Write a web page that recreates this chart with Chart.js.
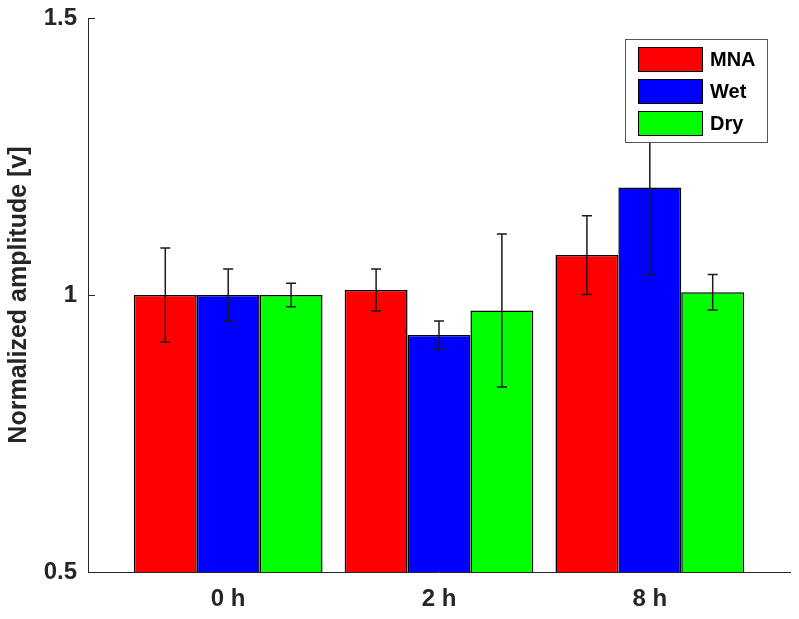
<!DOCTYPE html>
<html>
<head>
<meta charset="utf-8">
<script src="https://cdn.jsdelivr.net/npm/chart.js@4"></script>
<style>
  html, body { margin: 0; padding: 0; background: #fff; }
  #wrap { width: 799px; height: 619px; }
</style>
</head>
<body>
<div id="wrap"><canvas id="chart" width="799" height="619"></canvas></div>
<script>
// values
const timeLabels = ['0 h', '2 h', '8 h'];
const seriesNames = ['MNA', 'Wet', 'Dry'];
const mna = [1.0, 1.009, 1.072];
const wet = [1.0, 0.928, 1.194];
const dry = [1.0, 0.972, 1.005];
const mnaErr = [0.085, 0.038, 0.071];
const wetErr = [0.047, 0.025, 0.158];
const dryErr = [0.021, 0.138, 0.032];
const colors = ['#ff0000', '#0000ff', '#00ff00'];
const yTicks = [0.5, 1, 1.5];

const font = 'Liberation Sans';
const axisColor = '#262626';

const values = [mna, wet, dry];
const errors = [mnaErr, wetErr, dryErr];

const datasets = seriesNames.map((name, i) => ({
  label: name,
  data: values[i].map((v, j) => ({ x: j + 1, y: v })),
  err: errors[i],
  backgroundColor: colors[i],
  borderColor: '#000',
  borderWidth: 1.5,
  borderSkipped: false,
  categoryPercentage: 0.895,
  barPercentage: 1.0
}));

const errorBars = {
  id: 'errorBars',
  afterDatasetsDraw(chart) {
    const ctx = chart.ctx;
    const y = chart.scales.y;
    ctx.save();
    ctx.strokeStyle = '#1a1a1a';
    ctx.lineWidth = 1.5;
    chart.data.datasets.forEach((ds, i) => {
      const meta = chart.getDatasetMeta(i);
      meta.data.forEach((bar, j) => {
        const v = ds.data[j].y, e = ds.err[j];
        const top = y.getPixelForValue(v + e);
        const bot = y.getPixelForValue(v - e);
        ctx.beginPath();
        ctx.moveTo(bar.x, top); ctx.lineTo(bar.x, bot);
        ctx.moveTo(bar.x - 5, top); ctx.lineTo(bar.x + 5, top);
        ctx.moveTo(bar.x - 5, bot); ctx.lineTo(bar.x + 5, bot);
        ctx.stroke();
      });
    });
    ctx.restore();
  },
  afterDraw(chart) {
    const ctx = chart.ctx;
    const y = chart.scales.y;
    const area = chart.chartArea;
    ctx.save();
    // inward ticks
    ctx.strokeStyle = axisColor;
    ctx.lineWidth = 1;
    yTicks.forEach(t => {
      const py = Math.round(y.getPixelForValue(t)) + 0.5;
      ctx.beginPath();
      ctx.moveTo(area.left, py); ctx.lineTo(area.left + 7, py);
      ctx.stroke();
    });
    // legend box, drawn over the bars and error bars
    const bx = 625, by = 39, bw = 142, bh = 103;
    ctx.fillStyle = '#fff';
    ctx.fillRect(bx, by, bw, bh);
    ctx.strokeStyle = '#555';
    ctx.lineWidth = 1;
    ctx.strokeRect(bx + 0.5, by + 0.5, bw, bh);
    ctx.font = 'bold 20px "' + font + '"';
    ctx.textBaseline = 'middle';
    chart.data.datasets.forEach((ds, i) => {
      const ry = by + 8 + i * 32;
      ctx.fillStyle = ds.backgroundColor;
      ctx.fillRect(638, ry, 64, 24);
      ctx.strokeStyle = '#000';
      ctx.strokeRect(638.5, ry + 0.5, 64, 24);
      ctx.fillStyle = '#000';
      ctx.fillText(ds.label, 710, ry + 13);
    });
    ctx.restore();
  }
};

new Chart(document.getElementById('chart'), {
  type: 'bar',
  data: { datasets },
  options: {
    responsive: false,
    animation: false,
    layout: { padding: { left: 0, right: 9, top: 18, bottom: 0 } },
    plugins: { legend: { display: false }, tooltip: { enabled: false } },
    scales: {
      x: {
        type: 'linear',
        offset: false,
        min: 0.335,
        max: 3.665,
        grid: { display: false, drawTicks: false },
        border: { display: true, color: axisColor, width: 1 },
        afterBuildTicks: s => { s.ticks = timeLabels.map((_, i) => ({ value: i + 1 })); },
        afterFit: s => { s.height = 47; s.paddingLeft = 0; s.paddingRight = 0; },
        ticks: {
          padding: 13,
          color: axisColor,
          font: { family: font, size: 24, weight: 'bold' },
          maxRotation: 0,
          callback: v => timeLabels[v - 1]
        }
      },
      y: {
        min: 0.5,
        max: 1.5,
        grid: { display: false, drawTicks: false },
        border: { display: true, color: axisColor, width: 1 },
        afterBuildTicks: s => { s.ticks = yTicks.map(v => ({ value: v })); },
        afterFit: s => { s.width = 88; s.paddingTop = 0; s.paddingBottom = 0; },
        ticks: {
          padding: 11,
          color: axisColor,
          font: { family: font, size: 24, weight: 'bold' },
          callback: v => String(v)
        },
        title: {
          display: true,
          text: 'Normalized amplitude [v]',
          color: axisColor,
          font: { family: font, size: 25, weight: 'bold' },
          padding: { top: 4, bottom: 0 }
        }
      }
    }
  },
  plugins: [errorBars]
});
</script>
</body>
</html>
